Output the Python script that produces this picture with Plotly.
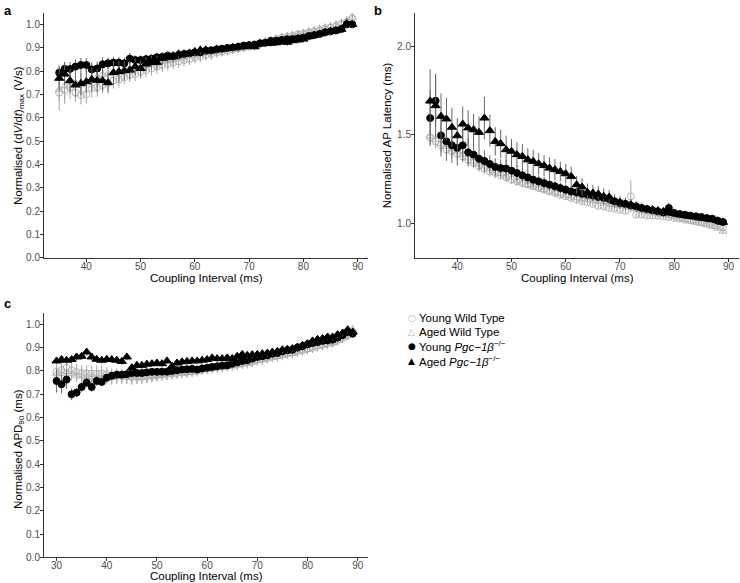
import plotly.graph_objects as go

# ---------------- data ----------------
x_ab = list(range(35, 90))
x_c = list(range(30, 90))

# Panel a: Normalised (dV/dt)max
a_young_wt = [0.707,0.719,0.730,0.707,0.697,0.701,0.726,0.730,0.740,0.750,0.759,0.764,0.773,0.783,0.787,0.797,0.804,0.811,0.819,0.826,0.830,0.836,0.841,0.847,0.851,0.859,0.864,0.869,0.873,0.879,0.883,0.887,0.893,0.897,0.901,0.907,0.911,0.919,0.924,0.930,0.936,0.943,0.947,0.951,0.957,0.961,0.966,0.971,0.976,0.980,0.987,0.993,1.001,1.011,1.026]
a_aged_wt = [0.720,0.735,0.755,0.750,0.740,0.755,0.765,0.775,0.785,0.790,0.795,0.800,0.806,0.810,0.815,0.821,0.825,0.830,0.836,0.840,0.845,0.850,0.855,0.860,0.864,0.868,0.872,0.877,0.880,0.884,0.888,0.892,0.896,0.900,0.904,0.908,0.913,0.918,0.923,0.928,0.934,0.940,0.945,0.950,0.955,0.960,0.966,0.972,0.978,0.984,0.990,0.997,1.005,1.015,1.030]
a_young_pgc = [0.793,0.809,0.809,0.819,0.826,0.826,0.807,0.811,0.829,0.833,0.836,0.836,0.833,0.853,0.847,0.847,0.851,0.853,0.859,0.861,0.866,0.864,0.869,0.873,0.876,0.880,0.880,0.887,0.889,0.893,0.896,0.899,0.901,0.904,0.909,0.911,0.913,0.919,0.921,0.929,0.930,0.933,0.936,0.937,0.940,0.944,0.950,0.954,0.959,0.966,0.970,0.974,0.980,1.000,1.000]
a_aged_pgc = [0.769,0.787,0.759,0.740,0.747,0.754,0.764,0.760,0.759,0.750,0.793,0.797,0.801,0.804,0.819,0.811,0.830,0.837,0.837,0.854,0.859,0.861,0.873,0.873,0.876,0.883,0.890,0.890,0.887,0.893,0.894,0.897,0.901,0.904,0.904,0.909,0.904,0.916,0.919,0.919,0.921,0.926,0.923,0.930,0.933,0.937,0.947,0.953,0.959,0.964,0.969,0.973,0.979,1.004,1.000]
a_young_wt_err = [0.075,0.06,0.05,0.04,0.04,0.04,0.04,0.04,0.035,0.035,0.035,0.035,0.03,0.03,0.03,0.03,0.03,0.03,0.03,0.03,0.028,0.028,0.028,0.028,0.025,0.025,0.025,0.025,0.025,0.02,0.02,0.02,0.02,0.02,0.02,0.02,0.02,0.02,0.02,0.02,0.02,0.02,0.02,0.02,0.02,0.02,0.02,0.02,0.02,0.02,0.02,0.02,0.02,0.02,0.02]
a_aged_wt_err = [0.05,0.06,0.05,0.05,0.05,0.05,0.045,0.045,0.04,0.04,0.04,0.04,0.035,0.035,0.035,0.035,0.03,0.03,0.03,0.03,0.03,0.03,0.03,0.025,0.025,0.025,0.025,0.025,0.025,0.025,0.02,0.02,0.02,0.02,0.02,0.02,0.02,0.02,0.02,0.02,0.02,0.02,0.02,0.02,0.02,0.02,0.02,0.02,0.02,0.02,0.02,0.02,0.02,0.02,0.02]
a_young_pgc_err = [0.03,0.03,0.03,0.03,0.03,0.03,0.03,0.03,0.03,0.025,0.025,0.025,0.025,0.025,0.02,0.02,0.02,0.02,0.02,0.02,0.02,0.02,0.02,0.015,0.015,0.015,0.015,0.015,0.015,0.015,0.015,0.012,0.012,0.012,0.012,0.012,0.012,0.012,0.012,0.012,0.012,0.012,0.012,0.012,0.012,0.012,0.012,0.012,0.012,0.012,0.012,0.012,0.012,0.012,0.012]
a_aged_pgc_err = [0.05,0.045,0.05,0.05,0.05,0.05,0.05,0.05,0.045,0.045,0.05,0.045,0.04,0.04,0.035,0.035,0.03,0.03,0.03,0.025,0.025,0.025,0.02,0.02,0.02,0.02,0.02,0.02,0.02,0.02,0.015,0.015,0.015,0.015,0.015,0.015,0.015,0.015,0.015,0.015,0.015,0.015,0.015,0.015,0.015,0.015,0.015,0.015,0.015,0.015,0.015,0.015,0.015,0.015,0.015]

# Panel b: Normalised AP latency
b_young_wt = [1.485,1.462,1.440,1.415,1.406,1.392,1.377,1.358,1.340,1.321,1.308,1.292,1.283,1.270,1.258,1.245,1.236,1.226,1.217,1.208,1.198,1.189,1.179,1.170,1.160,1.151,1.142,1.132,1.123,1.117,1.109,1.098,1.094,1.085,1.081,1.075,1.070,1.151,1.047,1.047,1.043,1.042,1.042,1.038,1.034,1.028,1.025,1.019,1.015,1.011,1.006,1.000,0.994,0.987,0.975]
b_aged_wt = [1.490,1.472,1.449,1.434,1.419,1.406,1.387,1.368,1.349,1.334,1.321,1.308,1.292,1.279,1.264,1.255,1.240,1.230,1.217,1.208,1.198,1.189,1.179,1.174,1.166,1.157,1.151,1.142,1.136,1.132,1.128,1.123,1.117,1.109,1.104,1.098,1.094,1.085,1.079,1.072,1.064,1.057,1.051,1.047,1.042,1.034,1.026,1.019,1.011,1.004,0.996,0.989,0.981,0.970,0.953]
b_young_pgc = [1.594,1.692,1.496,1.462,1.440,1.425,1.440,1.400,1.387,1.364,1.351,1.334,1.317,1.311,1.308,1.296,1.283,1.270,1.258,1.245,1.236,1.226,1.217,1.208,1.198,1.189,1.179,1.174,1.166,1.160,1.155,1.147,1.142,1.136,1.123,1.113,1.108,1.100,1.094,1.085,1.079,1.072,1.066,1.060,1.085,1.057,1.051,1.047,1.042,1.038,1.034,1.028,1.025,1.013,1.006]
b_aged_pgc = [1.690,1.664,1.604,1.589,1.542,1.494,1.560,1.538,1.528,1.513,1.594,1.523,1.462,1.449,1.415,1.406,1.387,1.377,1.358,1.349,1.336,1.325,1.311,1.302,1.292,1.279,1.264,1.217,1.204,1.174,1.170,1.164,1.151,1.147,1.123,1.117,1.109,1.104,1.094,1.085,1.079,1.075,1.070,1.066,1.057,1.053,1.047,1.042,1.038,1.034,1.028,1.025,1.019,1.013,1.004]
b_young_wt_err = [0.04,0.04,0.04,0.035,0.035,0.035,0.035,0.03,0.03,0.03,0.03,0.03,0.03,0.025,0.025,0.025,0.025,0.025,0.02,0.02,0.02,0.02,0.02,0.02,0.02,0.02,0.02,0.02,0.02,0.015,0.015,0.015,0.015,0.015,0.015,0.015,0.015,0.09,0.015,0.015,0.015,0.015,0.015,0.015,0.015,0.015,0.015,0.015,0.015,0.015,0.015,0.015,0.015,0.015,0.015]
b_aged_wt_err = [0.04,0.04,0.04,0.04,0.035,0.035,0.035,0.035,0.03,0.03,0.03,0.03,0.03,0.025,0.025,0.025,0.025,0.025,0.02,0.02,0.02,0.02,0.02,0.02,0.02,0.02,0.02,0.02,0.02,0.02,0.02,0.02,0.02,0.02,0.02,0.015,0.015,0.015,0.015,0.015,0.015,0.015,0.015,0.015,0.015,0.015,0.015,0.015,0.015,0.015,0.015,0.015,0.015,0.015,0.015]
b_young_pgc_err = [0.16,0.15,0.12,0.11,0.1,0.1,0.09,0.08,0.07,0.06,0.06,0.05,0.05,0.05,0.05,0.045,0.045,0.04,0.04,0.04,0.035,0.035,0.035,0.03,0.03,0.03,0.03,0.03,0.025,0.025,0.025,0.025,0.025,0.025,0.02,0.02,0.02,0.02,0.02,0.02,0.02,0.02,0.02,0.02,0.03,0.02,0.015,0.015,0.015,0.015,0.015,0.015,0.015,0.015,0.015]
b_aged_pgc_err = [0.18,0.18,0.13,0.12,0.11,0.10,0.10,0.10,0.09,0.09,0.12,0.09,0.08,0.08,0.08,0.07,0.07,0.07,0.065,0.065,0.06,0.06,0.06,0.06,0.055,0.055,0.055,0.05,0.05,0.05,0.045,0.045,0.045,0.04,0.04,0.035,0.035,0.03,0.03,0.03,0.025,0.025,0.025,0.02,0.02,0.02,0.02,0.02,0.02,0.02,0.015,0.015,0.015,0.015,0.015]

# Panel c: Normalised APD90
c_young_wt = [0.796,0.803,0.814,0.803,0.796,0.791,0.789,0.789,0.789,0.789,0.786,0.781,0.781,0.779,0.777,0.774,0.774,0.774,0.777,0.779,0.781,0.784,0.786,0.789,0.791,0.794,0.797,0.800,0.803,0.807,0.811,0.814,0.817,0.820,0.826,0.829,0.831,0.834,0.840,0.843,0.849,0.853,0.860,0.863,0.867,0.874,0.877,0.881,0.889,0.891,0.896,0.903,0.910,0.914,0.920,0.924,0.934,0.943,0.953,0.963]
c_aged_wt = [0.786,0.789,0.796,0.789,0.781,0.777,0.774,0.774,0.771,0.771,0.771,0.771,0.774,0.774,0.774,0.771,0.771,0.771,0.774,0.777,0.780,0.783,0.786,0.786,0.789,0.789,0.791,0.794,0.797,0.803,0.806,0.809,0.811,0.814,0.817,0.820,0.824,0.829,0.831,0.837,0.843,0.846,0.851,0.857,0.860,0.866,0.871,0.874,0.880,0.886,0.891,0.897,0.903,0.909,0.914,0.920,0.929,0.939,0.953,0.977]
c_young_pgc = [0.757,0.743,0.763,0.700,0.707,0.731,0.750,0.731,0.757,0.753,0.771,0.779,0.784,0.784,0.786,0.791,0.791,0.791,0.794,0.796,0.796,0.797,0.797,0.800,0.803,0.806,0.807,0.809,0.806,0.811,0.814,0.817,0.820,0.823,0.824,0.831,0.837,0.843,0.846,0.853,0.860,0.863,0.867,0.874,0.877,0.884,0.889,0.891,0.900,0.906,0.914,0.920,0.924,0.929,0.931,0.934,0.943,0.953,0.967,0.960]
c_aged_pgc = [0.843,0.849,0.846,0.849,0.860,0.863,0.881,0.860,0.850,0.846,0.850,0.849,0.846,0.841,0.860,0.814,0.824,0.824,0.829,0.831,0.834,0.831,0.843,0.820,0.834,0.839,0.841,0.843,0.843,0.846,0.849,0.856,0.853,0.853,0.856,0.853,0.863,0.871,0.867,0.870,0.871,0.874,0.877,0.881,0.884,0.891,0.893,0.896,0.903,0.910,0.917,0.929,0.936,0.939,0.946,0.946,0.956,0.963,0.977,0.967]
c_young_wt_err = [0.03,0.03,0.035,0.035,0.035,0.035,0.035,0.035,0.035,0.035,0.03,0.03,0.03,0.03,0.03,0.03,0.03,0.03,0.03,0.025,0.025,0.025,0.025,0.025,0.025,0.025,0.025,0.02,0.02,0.02,0.02,0.02,0.02,0.02,0.02,0.02,0.02,0.02,0.02,0.02,0.02,0.02,0.02,0.02,0.02,0.02,0.02,0.02,0.02,0.02,0.02,0.02,0.02,0.02,0.02,0.02,0.02,0.02,0.02,0.02]
c_aged_wt_err = [0.03,0.03,0.03,0.03,0.03,0.03,0.03,0.03,0.03,0.03,0.03,0.03,0.03,0.03,0.03,0.03,0.025,0.025,0.025,0.025,0.025,0.025,0.025,0.02,0.02,0.02,0.02,0.02,0.02,0.02,0.02,0.02,0.02,0.02,0.02,0.02,0.02,0.02,0.02,0.02,0.02,0.02,0.02,0.02,0.02,0.02,0.02,0.02,0.02,0.02,0.02,0.02,0.02,0.02,0.02,0.02,0.02,0.02,0.02,0.02]
c_young_pgc_err = [0.05,0.04,0.04,0.025,0.02,0.02,0.02,0.02,0.02,0.015,0.015,0.012,0.012,0.012,0.012,0.012,0.012,0.012,0.012,0.012,0.012,0.012,0.012,0.012,0.012,0.012,0.012,0.012,0.012,0.012,0.012,0.012,0.012,0.012,0.012,0.012,0.012,0.012,0.012,0.012,0.012,0.012,0.012,0.012,0.012,0.012,0.012,0.012,0.012,0.012,0.012,0.012,0.012,0.012,0.012,0.012,0.012,0.012,0.012,0.012]
c_aged_pgc_err = [0.015]*60

x_title = "Coupling Interval (ms)"
y_titles = ["Normalised (d<i>V</i>/d<i>t</i>)<sub>max</sub> (V/s)",
            "Normalised AP Latency (ms)",
            "Normalised APD<sub>90</sub> (ms)"]

# ---------------- styling ----------------
FONT = "Liberation Sans, Arial, Helvetica, sans-serif"
WT_COLOR = "#b3b3b3"
WT_ERR = "#a6a6a6"
PGC_COLOR = "#000000"
PGC_ERR = "#666666"

series_style = {
    "Young Wild Type": dict(symbol="circle-open", color=WT_COLOR, size=7, err=WT_ERR),
    "Aged Wild Type": dict(symbol="triangle-up-open", color=WT_COLOR, size=7, err=WT_ERR),
    "Young Pgc": dict(symbol="circle", color=PGC_COLOR, size=7, err=PGC_ERR),
    "Aged Pgc": dict(symbol="triangle-up", color=PGC_COLOR, size=8, err=PGC_ERR),
}

fig = go.Figure()

panels = [
    ("x", "y", x_ab, [(a_young_wt, a_young_wt_err, "Young Wild Type"),
                      (a_aged_wt, a_aged_wt_err, "Aged Wild Type"),
                      (a_young_pgc, a_young_pgc_err, "Young Pgc"),
                      (a_aged_pgc, a_aged_pgc_err, "Aged Pgc")]),
    ("x2", "y2", x_ab, [(b_young_wt, b_young_wt_err, "Young Wild Type"),
                        (b_aged_wt, b_aged_wt_err, "Aged Wild Type"),
                        (b_young_pgc, b_young_pgc_err, "Young Pgc"),
                        (b_aged_pgc, b_aged_pgc_err, "Aged Pgc")]),
    ("x3", "y3", x_c, [(c_young_wt, c_young_wt_err, "Young Wild Type"),
                       (c_aged_wt, c_aged_wt_err, "Aged Wild Type"),
                       (c_young_pgc, c_young_pgc_err, "Young Pgc"),
                       (c_aged_pgc, c_aged_pgc_err, "Aged Pgc")]),
]

for xa, ya, xs, series in panels:
    for ys, es, name in series:
        st = series_style[name]
        fig.add_trace(go.Scatter(
            x=xs, y=ys, mode="markers", name=name, showlegend=False,
            xaxis=xa, yaxis=ya, cliponaxis=False,
            marker=dict(symbol=st["symbol"], color=st["color"], size=st["size"],
                        line=dict(width=1, color=st["color"])),
            error_y=dict(type="data", array=es, visible=True, color=st["err"],
                         thickness=1, width=0),
        ))

W, H = 740, 583
def xd(l, r):
    return [l / W, r / W]
def yd(top, bottom):
    return [(H - bottom) / H, (H - top) / H]

axis_common = dict(showline=True, linecolor="#333333", linewidth=1, ticks="outside",
                   ticklen=3, tickcolor="#333333", tickwidth=1, showgrid=False,
                   zeroline=False, tickfont=dict(family=FONT, size=10, color="#4d4d4d"),
                   mirror=False, automargin=False)
title_font = dict(family=FONT, size=11.5, color="#000000")

fig.update_layout(
    width=W, height=H, margin=dict(l=0, r=0, t=0, b=0, autoexpand=False),
    plot_bgcolor="white", paper_bgcolor="white",
    font=dict(family=FONT),
    xaxis=dict(domain=xd(44, 368), range=[32.2, 91.9], tickvals=[40, 50, 60, 70, 80, 90],
               anchor="y", ticklabelstandoff=-4, **axis_common),
    yaxis=dict(domain=yd(12.7, 257.7), range=[0, 1.05], dtick=0.1, tickformat=".1f",
               anchor="x", ticklabelstandoff=-2, **axis_common),
    xaxis2=dict(domain=xd(415, 739.3), range=[32.2, 92.0], tickvals=[40, 50, 60, 70, 80, 90],
                anchor="y2", ticklabelstandoff=-4, **axis_common),
    yaxis2=dict(domain=yd(12.7, 257.7), range=[0.804, 2.19], tickvals=[1.0, 1.5, 2.0],
                tickformat=".1f", anchor="x2", ticklabelstandoff=-2, **axis_common),
    xaxis3=dict(domain=xd(44, 368), range=[27.5, 92.05], tickvals=[30, 40, 50, 60, 70, 80, 90],
                anchor="y3", ticklabelstandoff=-4, **axis_common),
    yaxis3=dict(domain=yd(312.7, 557.3), range=[0, 1.05], dtick=0.1, tickformat=".1f",
                anchor="x3", ticklabelstandoff=-2, **axis_common),
)

# x-axis titles placed under each panel
for xc, yc in [((44 + 368) / 2, 277.5), ((415 + 739.3) / 2, 277.5), ((44 + 368) / 2, 576)]:
    fig.add_annotation(text=x_title, xref="paper", yref="paper", x=xc / W, y=(H - yc) / H,
                       xanchor="center", yanchor="middle", showarrow=False,
                       font=title_font, borderpad=0)

# y-axis titles (rotated)
for txt, xc, yc in [(y_titles[0], 18.5, 135.5), (y_titles[1], 386.7, 135.5),
                    (y_titles[2], 18.5, 449.5)]:
    fig.add_annotation(text=txt, xref="paper", yref="paper", x=xc / W, y=(H - yc) / H,
                       xanchor="center", yanchor="middle", textangle=-90, showarrow=False,
                       font=title_font)

# panel letters
for letter, px, py in [("a", 2, 1), ("b", 372, 1), ("c", 2, 294)]:
    fig.add_annotation(text=f"<b>{letter}</b>", xref="paper", yref="paper",
                       x=px / W, y=(H - py) / H, xanchor="left", yanchor="top",
                       showarrow=False, font=dict(family=FONT, size=13, color="black"))

# legend (key drawn as text glyphs)
legend_items = [
    ("○", WT_COLOR, "Young Wild Type"),
    ("△", WT_COLOR, "Aged Wild Type"),
    ("●", "#000000", "Young <i>Pgc\u22121β</i><sup>\u2212/\u2212</sup>"),
    ("▲", "#000000", "Aged <i>Pgc\u22121β</i><sup>\u2212/\u2212</sup>"),
]
for i, (glyph, gcol, label) in enumerate(legend_items):
    yc = 317.5 + i * 14.4
    fig.add_annotation(text=glyph, xref="paper", yref="paper", x=411.5 / W, y=(H - yc) / H,
                       xanchor="center", yanchor="middle", showarrow=False,
                       font=dict(family="DejaVu Sans", size=9, color=gcol))
    fig.add_annotation(text=label, xref="paper", yref="paper", x=417.5 / W, y=(H - yc) / H,
                       xanchor="left", yanchor="middle", showarrow=False,
                       font=dict(family=FONT, size=11.5, color="black"))

fig.write_html("out.html", config={"displayModeBar": False},
               post_script="document.body.style.margin='0';document.body.style.overflow='hidden';")
